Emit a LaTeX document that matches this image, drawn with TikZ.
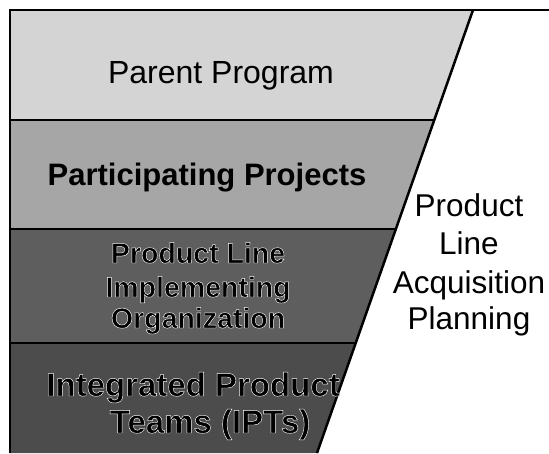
\documentclass[tikz,border=0pt]{standalone}
\usepackage{fontspec}
\setmainfont{Liberation Sans}
\newcommand{\haloon}{\special{pdf:literal direct 2 Tr 0.45 w 1 1 1 RG 0 0 0 rg}}
\newcommand{\halooff}{\special{pdf:literal direct 0 Tr 0 0 0 RG}}
\begin{document}
\begin{tikzpicture}[x=1pt,y=1pt,
  bandtext/.style={anchor=base, inner sep=0pt},
  sidetext/.style={font=\fontsize{31.5}{38}\selectfont, anchor=base, inner sep=0pt},
  edge/.style={line width=2.5pt, black}]
\useasboundingbox (0,0) rectangle (549,453);
% corner coordinates
\coordinate (TL) at (10,443);
\coordinate (TR) at (549,443);
\coordinate (ST) at (473,443);
\coordinate (S1) at (434.3,333);
\coordinate (S2) at (395.9,224);
\coordinate (S3) at (355.8,110);
\coordinate (SB) at (317,0);
\coordinate (L1) at (10,333);
\coordinate (L2) at (10,224);
\coordinate (L3) at (10,110);
\coordinate (BL) at (10,0);
% bands
\fill[black!17] (TL) -- (ST) -- (S1) -- (L1) -- cycle;
\fill[black!35] (L1) -- (S1) -- (S2) -- (L2) -- cycle;
\fill[black!63] (L2) -- (S2) -- (S3) -- (L3) -- cycle;
\fill[black!70] (L3) -- (S3) -- (SB) -- (BL) -- cycle;
% lines
\draw[edge] (BL) -- (TL) -- (TR);
\draw[edge] (ST) -- (SB);
\draw[edge] (L1) -- (S1);
\draw[edge] (L2) -- (S2);
\draw[edge] (L3) -- (S3);
% texts
\node[bandtext, font=\fontsize{32}{36}\selectfont] (pp) at (221,369) {Parent Program};
\node[bandtext, font=\bfseries\fontsize{31}{36}\selectfont] (part) at (207,267) {Participating Projects};
\node[bandtext, font=\bfseries\fontsize{28.5}{33}\selectfont] (pl1) at (198,190) {\haloon Product Line\halooff};
\node[bandtext, font=\bfseries\fontsize{28.5}{33}\selectfont] (pl2) at (198,156) {\haloon Implementing\halooff};
\node[bandtext, font=\bfseries\fontsize{28.5}{33}\selectfont] (pl3) at (198,125) {\haloon Organization\halooff};
\node[bandtext, font=\bfseries\fontsize{33}{37}\selectfont] (ip1) at (193,57) {\haloon Integrated Product\halooff};
\node[bandtext, font=\bfseries\fontsize{33}{37}\selectfont] (ip2) at (210,20) {\haloon Teams (IPTs)\halooff};
\node[sidetext] (r1) at (469,236) {Product};
\node[sidetext] (r2) at (469,198) {Line};
\node[sidetext] (r3) at (469,159) {Acquisition};
\node[sidetext] (r4) at (469,124) {Planning};
\end{tikzpicture}
\end{document}
